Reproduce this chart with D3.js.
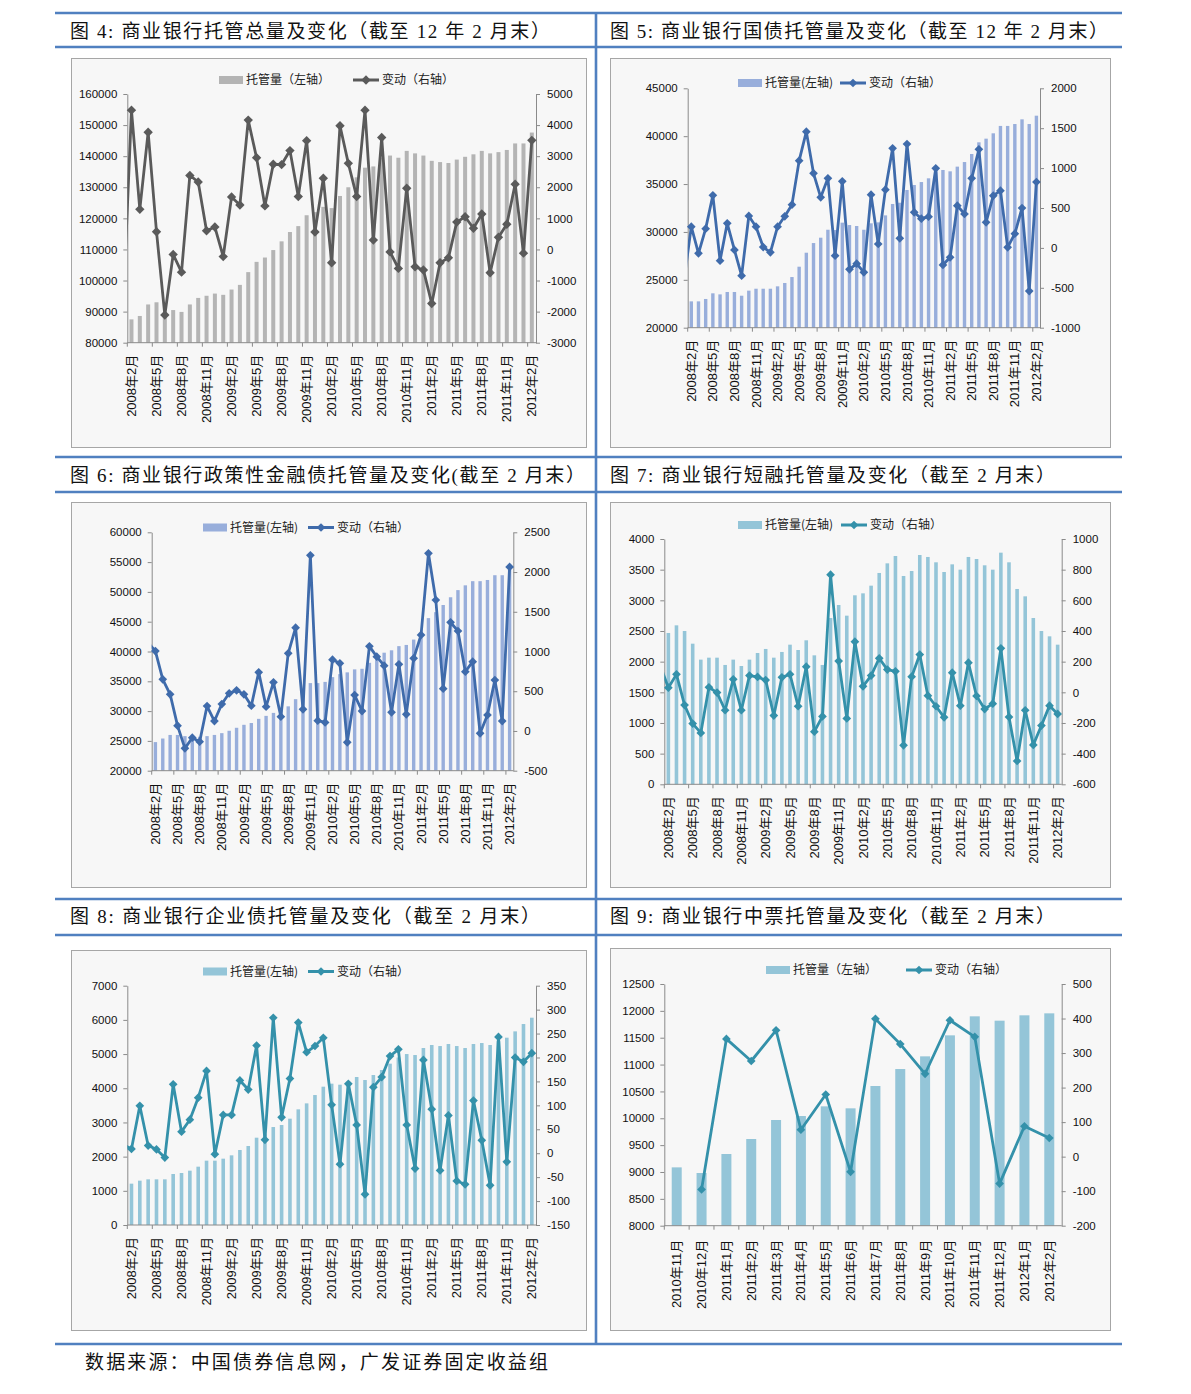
<!DOCTYPE html>
<html><head><meta charset="utf-8">
<script src="https://cdn.jsdelivr.net/npm/d3@7"></script>
<style>body{margin:0;background:#fff;} svg{display:block;}</style>
</head><body>
<svg id="c" width="1191" height="1394"></svg>
<script>
// ---------------- DATA ----------------
const months = ["2008年2月","2008年3月","2008年4月","2008年5月","2008年6月","2008年7月","2008年8月","2008年9月","2008年10月","2008年11月","2008年12月",
"2009年1月","2009年2月","2009年3月","2009年4月","2009年5月","2009年6月","2009年7月","2009年8月","2009年9月","2009年10月","2009年11月","2009年12月",
"2010年1月","2010年2月","2010年3月","2010年4月","2010年5月","2010年6月","2010年7月","2010年8月","2010年9月","2010年10月","2010年11月","2010年12月",
"2011年1月","2011年2月","2011年3月","2011年4月","2011年5月","2011年6月","2011年7月","2011年8月","2011年9月","2011年10月","2011年11月","2011年12月",
"2012年1月","2012年2月"];
const monthsMtn = ["2010年11月","2010年12月","2011年1月","2011年2月","2011年3月","2011年4月","2011年5月","2011年6月","2011年7月","2011年8月","2011年9月","2011年10月","2011年11月","2011年12月","2012年1月","2012年2月"];

// 图4 托管总量
const totalHold = [87500,88600,92300,93000,88800,90500,89900,92300,94400,95100,95800,95400,97100,98600,102700,106000,107400,109800,112600,115600,117500,121000,122000,123700,123300,127200,130000,133200,136300,136700,139500,140200,139500,141700,140900,140200,138500,138100,137800,138900,139800,140600,141700,140900,141300,142000,144100,144100,147600];
const totalChg = [4480,1290,3770,570,-2110,-160,-730,2380,2170,600,720,-230,1690,1430,4160,2950,1400,2740,2730,3180,1700,3500,560,2290,-430,3980,2770,1700,4480,300,3600,-80,-610,1970,-560,-660,-1740,-430,-270,880,1050,680,1140,-750,390,810,2100,-120,3510];
const totalChgBefore = -1900;
// 图5 国债
const govHold = [22750,22750,23000,23590,23480,23730,23730,23340,23870,24070,24070,24070,24320,24670,25290,26370,27830,28840,29400,30230,30200,30970,30720,30620,30230,30900,31000,31730,32920,33050,34380,34900,35210,35600,36300,36470,36330,36820,37300,38140,39360,39740,40300,41070,41070,41270,41760,41270,42140];
const govChg = [266,-68,241,659,-160,308,-26,-348,400,266,11,-56,266,396,542,1093,1457,935,634,872,-97,834,-269,-198,-306,667,49,730,1248,120,1302,446,366,391,997,-214,-118,529,425,872,1235,320,655,717,7,178,500,-541,826];
const govChgBefore = -400;
// 图6 政策性金融债
const policyHold = [24800,25400,26000,26000,25800,25800,25700,25800,26000,26300,26700,27200,27700,28000,28700,29200,29700,30100,30800,32000,33000,34700,34700,34900,35700,36200,36500,37000,37100,38100,39400,39800,40200,40900,41100,42000,43000,45600,46600,47800,49100,50300,51100,51800,51800,52000,52800,52800,54200];
const policyChg = [1006,650,461,67,-219,-85,-135,314,125,339,474,511,461,318,738,306,612,180,977,1300,272,2210,130,108,897,851,-143,452,251,1065,935,822,234,839,209,914,1208,2236,1648,532,1367,1258,746,872,-30,201,641,125,2064];
const policyChgBefore = 1110;
// 图7 短融
const cpHold = [2467,2592,2500,2293,2033,2065,2065,1946,2033,1929,2033,2141,2207,2065,2158,2277,2190,2348,2103,1946,2712,2924,2750,3082,3114,3239,3446,3603,3723,3397,3478,3739,3707,3620,3462,3587,3500,3707,3674,3571,3500,3777,3620,3185,3065,2712,2500,2413,2277];
const cpChg = [30,117,-83,-204,-265,33,-2,-117,85,-117,109,100,80,-152,98,117,-91,167,-257,-157,767,204,-170,330,39,109,222,148,137,-346,102,246,-22,-91,-163,128,-87,193,-24,-109,-74,287,-161,-448,-117,-343,-217,-87,-141];
const cpChgBefore = 174;
// 图8 企业债
const corpHold = [1209,1297,1336,1336,1336,1492,1521,1589,1706,1882,1882,1940,2038,2194,2311,2554,2650,2866,2925,3110,3383,3558,3802,4046,4134,4104,4211,4329,4241,4387,4533,4719,4900,5001,4972,5177,5265,5235,5294,5235,5177,5294,5323,5265,5380,5479,5664,5879,6064];
const corpChg = [9,99,16,8,-9,144,45,70,116,172,-2,80,80,152,133,225,28,283,75,156,273,211,224,241,101,-23,145,59,-86,138,159,203,217,59,-32,195,92,-36,79,-58,-65,110,27,-67,243,-18,200,191,209];
const corpChgBefore = 18;
// 图9 中票
const mtnHold = [9086,8981,9335,9614,9968,10042,10222,10185,10601,10917,11153,11544,11898,11817,11917,11954];
const mtnChg = [null,-95,341,277,366,78,180,-44,399,326,240,395,347,-78,88,54];

// tick values
const ticksL1 = [80000,90000,100000,110000,120000,130000,140000,150000,160000];
const ticksR1 = [-3000,-2000,-1000,0,1000,2000,3000,4000,5000];
const ticksL2 = [20000,25000,30000,35000,40000,45000];
const ticksR2 = [-1000,-500,0,500,1000,1500,2000];
const ticksL3 = [20000,25000,30000,35000,40000,45000,50000,55000,60000];
const ticksR3 = [-500,0,500,1000,1500,2000,2500];
const ticksL4 = [0,500,1000,1500,2000,2500,3000,3500,4000];
const ticksR4 = [-600,-400,-200,0,200,400,600,800,1000];
const ticksL5 = [0,1000,2000,3000,4000,5000,6000,7000];
const ticksR5 = [-150,-100,-50,0,50,100,150,200,250,300,350];
const ticksL6 = [8000,8500,9000,9500,10000,10500,11000,11500,12000,12500];
const ticksR6 = [-200,-100,0,100,200,300,400,500];

const titles = [
  "图 4:  商业银行托管总量及变化（截至 12 年 2 月末）",
  "图 5:  商业银行国债托管量及变化（截至 12 年 2 月末）",
  "图 6: 商业银行政策性金融债托管量及变化(截至 2 月末）",
  "图 7:  商业银行短融托管量及变化（截至 2 月末）",
  "图 8:  商业银行企业债托管量及变化（截至 2 月末）",
  "图 9:  商业银行中票托管量及变化（截至 2 月末）"
];
const sourceText = "数据来源：中国债券信息网，广发证券固定收益组";

// ---------------- DRAW ----------------
const svg = d3.select("#c");
const BLUE = "#5080c0";
const TICKFONT = "'Liberation Sans', Arial, sans-serif";
const CJK = "'Noto Sans CJK SC', sans-serif";
const fmt = d => String(d);

[13,47,457,492,899,935,1344].forEach(y =>
  svg.append("line").attr("x1",55).attr("x2",1122).attr("y1",y).attr("y2",y)
     .attr("stroke",BLUE).attr("stroke-width",2.6));
svg.append("line").attr("x1",596).attr("x2",596).attr("y1",12).attr("y2",1345)
   .attr("stroke",BLUE).attr("stroke-width",2.6);

const titlePos = [[70,38,480],[610,38,498],[70,482,515],[610,482,445],[70,923,470],[610,923,445]];
titles.forEach((t,i) => {
  svg.append("text").attr("x",titlePos[i][0]).attr("y",titlePos[i][1])
    .attr("textLength",titlePos[i][2]).attr("lengthAdjust","spacing")
    .style("font-family","'Liberation Serif','Noto Sans CJK SC',serif").style("font-size","19px")
    .attr("fill","#111").text(t);
});
svg.append("text").attr("x",85).attr("y",1369).attr("textLength",463).attr("lengthAdjust","spacing")
  .style("font-family","'Liberation Serif','Noto Sans CJK SC',serif").style("font-size","19px")
  .attr("fill","#111").text(sourceText);

let clipId = 0;
function panel(o) {
  const g = svg.append("g");
  g.append("rect").attr("x",o.box[0]+0.5).attr("y",o.box[1]+0.5).attr("width",o.box[2]).attr("height",o.box[3])
    .attr("fill","#f7f7f7").attr("stroke","#a6a6a6").attr("stroke-width",1);
  const {l,r,t,b} = o.plot;
  const x = d3.scaleBand().domain(o.cats).range([l,r]).padding(0);
  const bw = x.bandwidth();
  const cx = c => x(c) + bw/2;
  const yL = d3.scaleLinear().domain([o.ticksL[0], o.ticksL[o.ticksL.length-1]]).range([b,t]);
  const yR = d3.scaleLinear().domain([o.ticksR[0], o.ticksR[o.ticksR.length-1]]).range([b,t]);

  // bars
  g.append("g").selectAll("rect").data(o.hold).join("rect")
    .attr("x",(d,i)=>cx(o.cats[i]) - o.barW/2).attr("width",o.barW)
    .attr("y",d=>yL(d)).attr("height",d=>b - yL(d)).attr("fill",o.barColor);

  // axes
  const axL = g.append("g").attr("transform",`translate(${l},0)`)
    .call(d3.axisLeft(yL).tickValues(o.ticksL).tickSize(4).tickSizeOuter(0).tickPadding(6).tickFormat(fmt));
  const axR = g.append("g").attr("transform",`translate(${r},0)`)
    .call(d3.axisRight(yR).tickValues(o.ticksR).tickSize(4).tickSizeOuter(0).tickPadding(7).tickFormat(fmt));
  [axL,axR].forEach(a => {
    a.selectAll("path,line").attr("stroke","#8a8a8a");
    a.selectAll("text").style("font-family",TICKFONT).style("font-size","11.5px").attr("fill","#111");
  });
  // bottom axis
  g.append("line").attr("x1",l).attr("x2",r).attr("y1",b).attr("y2",b).attr("stroke","#8a8a8a");
  const tickCats = o.cats.filter((c,i)=> i % o.every === 0);
  g.append("g").selectAll("line").data(tickCats).join("line")
    .attr("x1",c=>x(c)).attr("x2",c=>x(c)).attr("y1",b).attr("y2",b+4).attr("stroke","#8a8a8a");
  g.append("g").selectAll("text").data(tickCats).join("text")
    .attr("transform",c=>`translate(${cx(c)},${b+o.labelGap}) rotate(-90)`)
    .attr("text-anchor","end").attr("dy","0.35em")
    .style("font-family","'Liberation Sans','Noto Sans CJK SC',sans-serif").style("font-size","13px")
    .attr("fill","#111").text(c=>c);

  // line (clipped)
  const id = "clip" + (clipId++);
  g.append("clipPath").attr("id",id).append("rect").attr("x",l).attr("y",t-10).attr("width",r-l).attr("height",b-t+20);
  const pts = o.chg.map((v,i)=>({x:cx(o.cats[i]), v}));
  if (o.before !== null && o.before !== undefined) pts.unshift({x:cx(o.cats[0]) - bw, v:o.before});
  const line = d3.line().defined(d=>d.v !== null).x(d=>d.x).y(d=>yR(d.v));
  g.append("path").attr("clip-path",`url(#${id})`).attr("d",line(pts))
    .attr("fill","none").attr("stroke",o.lineColor).attr("stroke-width",2.8).attr("stroke-linejoin","round");
  const sym = d3.symbol(d3.symbolSquare, o.mk || 38);
  g.append("g").selectAll("path").data(o.chg.map((v,i)=>({c:o.cats[i],v})).filter(d=>d.v!==null)).join("path")
    .attr("transform",d=>`translate(${cx(d.c)},${yR(d.v)}) rotate(45)`).attr("d",sym).attr("fill",o.lineColor);

  // legend
  const ly = o.legendY;
  g.append("rect").attr("x",o.legBarX).attr("y",ly-4).attr("width",24).attr("height",8).attr("fill",o.barColor);
  g.append("text").attr("x",o.legBarX+27).attr("y",ly).attr("dy","0.36em").style("font-family",CJK).style("font-size","12px")
    .attr("fill","#222").text(o.leg1);
  g.append("line").attr("x1",o.legLineX).attr("x2",o.legLineX+26).attr("y1",ly).attr("y2",ly).attr("stroke",o.lineColor).attr("stroke-width",3);
  g.append("path").attr("transform",`translate(${o.legLineX+13},${ly}) rotate(45)`).attr("d",sym).attr("fill",o.lineColor);
  g.append("text").attr("x",o.legLineX+29).attr("y",ly).attr("dy","0.36em").style("font-family",CJK).style("font-size","12px")
    .attr("fill","#222").text(o.leg2);
}

const GRAY_BAR = "#b4b4b4", GRAY_LINE = "#5a5a5a";
const PURP_BAR = "#98aedb", PURP_LINE = "#3f6bab";
const TEAL_BAR = "#94c5d8", TEAL_LINE = "#3491aa";

panel({box:[71,58,515,389], plot:{l:127.3,r:536,t:94,b:342.7}, cats:months, hold:totalHold, chg:totalChg, before:totalChgBefore,
  ticksL:ticksL1, ticksR:ticksR1, barColor:GRAY_BAR, lineColor:GRAY_LINE, barW:4, every:3, labelGap:12, mk:44,
  legendY:80, legBarX:219, legLineX:353, leg1:"托管量（左轴）", leg2:"变动（右轴）"});
panel({box:[610,58,500,389], plot:{l:687.7,r:1040,t:88.3,b:327.7}, cats:months, hold:govHold, chg:govChg, before:govChgBefore,
  ticksL:ticksL2, ticksR:ticksR2, barColor:PURP_BAR, lineColor:PURP_LINE, barW:3.4, every:3, labelGap:12,
  legendY:83, legBarX:738, legLineX:840, leg1:"托管量(左轴)", leg2:"变动（右轴）"});
panel({box:[71,502,515,385], plot:{l:151.7,r:513.3,t:532.3,b:770.7}, cats:months, hold:policyHold, chg:policyChg, before:policyChgBefore,
  ticksL:ticksL3, ticksR:ticksR3, barColor:PURP_BAR, lineColor:PURP_LINE, barW:3.4, every:3, labelGap:12,
  legendY:527.5, legBarX:203, legLineX:308, leg1:"托管量(左轴)", leg2:"变动（右轴）"});
panel({box:[610,502,500,385], plot:{l:664.3,r:1061.7,t:539,b:784.3}, cats:months, hold:cpHold, chg:cpChg, before:cpChgBefore,
  ticksL:ticksL4, ticksR:ticksR4, barColor:TEAL_BAR, lineColor:TEAL_LINE, barW:3.6, every:3, labelGap:12,
  legendY:525, legBarX:738, legLineX:841, leg1:"托管量(左轴)", leg2:"变动（右轴）"});
panel({box:[71,950,515,380], plot:{l:127.3,r:536,t:985.7,b:1225}, cats:months, hold:corpHold, chg:corpChg, before:corpChgBefore,
  ticksL:ticksL5, ticksR:ticksR5, barColor:TEAL_BAR, lineColor:TEAL_LINE, barW:3.6, every:3, labelGap:12,
  legendY:971.5, legBarX:203, legLineX:308, leg1:"托管量(左轴)", leg2:"变动（右轴）"});
panel({box:[610,948,500,382], plot:{l:664.3,r:1061.7,t:984,b:1225.7}, cats:monthsMtn, hold:mtnHold, chg:mtnChg, before:null,
  ticksL:ticksL6, ticksR:ticksR6, barColor:TEAL_BAR, lineColor:TEAL_LINE, barW:10, every:1, labelGap:14,
  legendY:970, legBarX:766, legLineX:906, leg1:"托管量（左轴）", leg2:"变动（右轴）"});
</script>
</body></html>
